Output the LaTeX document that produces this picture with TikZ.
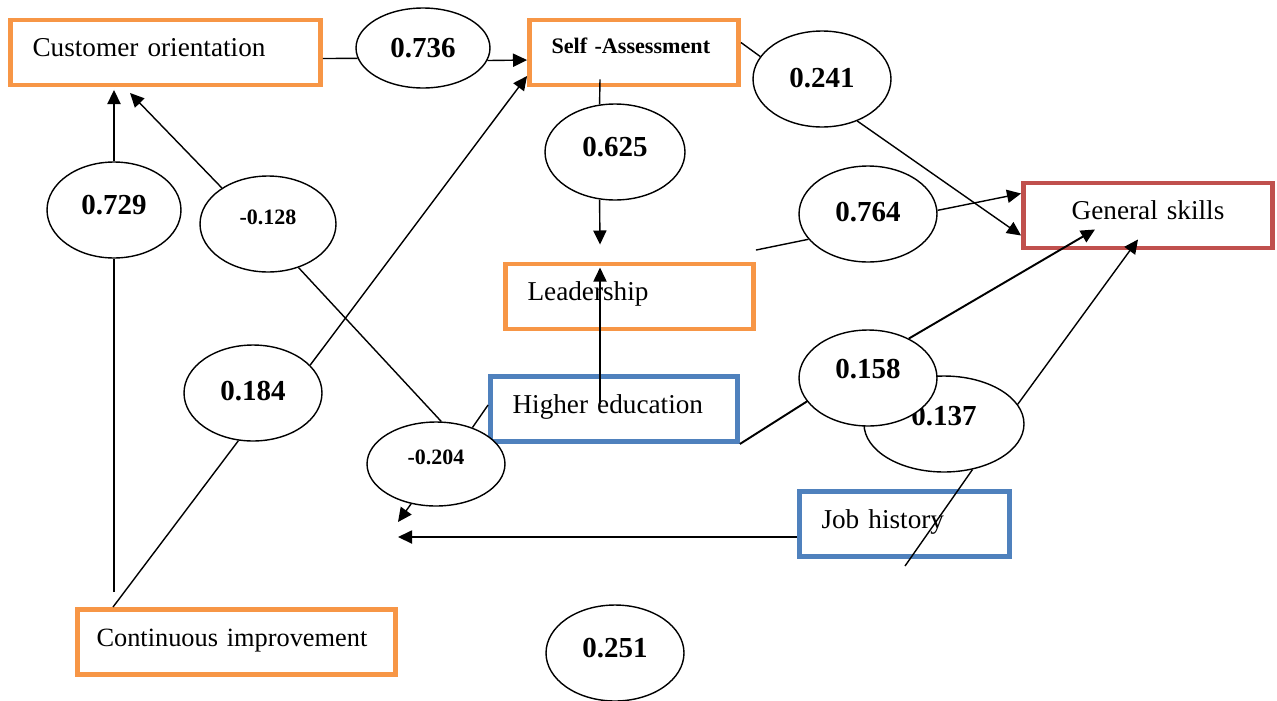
\documentclass[tikz,border=0pt]{standalone}
\usepackage{fontspec}
\setmainfont{Liberation Serif}
\usetikzlibrary{shapes.geometric,arrows.meta,calc}
\definecolor{orangebord}{RGB}{247,150,70}
\definecolor{bleubord}{RGB}{79,129,189}
\definecolor{rougebord}{RGB}{192,80,77}
\begin{document}
\begin{tikzpicture}[x=0.02cm, y=-0.02cm, line width=0.8pt]
\tikzset{cadre/.style={draw, line width=2.8pt, minimum height=1.3cm, inner xsep=0.44cm, align=left, font=\fontsize{15.5}{18}\selectfont, text height=0.45cm, text depth=0.29cm}}
\tikzset{coef/.style={draw, ellipse, fill=white, line width=0.8pt, inner sep=0pt, minimum width=2.76cm, minimum height=1.92cm, font=\bfseries\fontsize{16.5}{18}\selectfont, text height=0.45cm, text depth=0.26cm}}
\tikzset{fleche/.style={-{Triangle[length=8pt, width=7.5pt]}}}
\useasboundingbox (0,0) rectangle (1277,700);
\clip (0,0) rectangle (1277,700);
\node[cadre, draw=orangebord, text width=5.32cm] (CO) at (165.5,52.5) {Customer orientation};
\node[cadre, draw=orangebord, text width=3.30cm, font=\bfseries\fontsize{12.6}{15}\selectfont, text depth=0.43cm] (SA) at (634,52.5) {Self -Assessment};
\node[cadre, draw=orangebord, text width=4.08cm] (LD) at (629.5,296.5) {Leadership};
\node[cadre, draw=bleubord, text width=4.06cm] (HE) at (614,409) {Higher education};
\node[cadre, draw=rougebord, text width=4.10cm, align=center] (GS) at (1148,215.5) {General skills};
\node[cadre, draw=bleubord, text width=3.32cm] (JH) at (904.5,524) {Job history};
\node[cadre, draw=orangebord, text width=5.6cm, inner xsep=0.38cm, font=\fontsize{15}{18}\selectfont] (CI) at (236.5,642) {Continuous improvement};
\node[coef, minimum width=2.68cm, minimum height=1.6cm, text depth=0.06cm] (K736) at (423,48) {0.736};
\node[coef, text depth=0.12cm] (K241) at (822,79) {0.241};
\node[coef, minimum width=2.8cm] (K625) at (615,152) {0.625};
\node[coef, minimum width=2.68cm] (K729) at (114,210) {0.729};
\node[coef, minimum width=2.72cm, font=\bfseries\fontsize{12.5}{15}\selectfont, text depth=0.43cm] (K128) at (268,224) {-0.128};
\node[coef, text depth=0.14cm] (K764) at (868,214) {0.764};
\node[coef, minimum width=3.2cm, text depth=0.38cm] (K137) at (944,424) {0.137};
\node[coef, text depth=0.44cm] (K158) at (868,378) {0.158};
\node[coef, text depth=0.14cm] (K184) at (253,393) {0.184};
\node[coef, minimum height=1.68cm, font=\bfseries\fontsize{12.5}{15}\selectfont, text depth=0.43cm] (K204) at (436,464) {-0.204};
\node[coef] (K251) at (615,653) {0.251};
\coordinate (P204) at (398,522);
\coordinate (PJH) at (398,537);
\coordinate (P137) at (905,566);
\draw ($(CO.east)+(0,6)$) -- (K736.189);
\draw[fleche] (K736.-11) -- ($(SA.west)+(0,7.5)$);
\draw ($(SA.east)+(0,-10)$) -- (K241.160);
\draw[fleche] (K241.-50) -- ($(GS.west)+(0,20)$);
\draw ($(SA.south)+(-34,-8)$) -- (K625.108);
\draw[fleche] (K625.252) -- ($(LD.north)+(-29.5,-17)$);
\draw[fleche] (K729.north) -- ($(CO.south)+(-51.5,2.5)$);
\draw ($(CI.north)+(-122.5,-15)$) -- (K729.south);
\draw[fleche] (K128.142) -- ($(CO.south)+(-35.5,5.5)$);
\draw (K128.-55) -- (K204.83);
\draw ($(CI.north)+(-123.5,0)$) -- (K184.253);
\draw[fleche] (K184.26) -- ($(SA.west)+(0,23.5)$);
\draw ($(HE.west)+(0,-4)$) -- (K204.45);
\draw[fleche] (K204.238) -- (P204);
\draw[fleche] ($(JH.west)+(0,13)$) -- (PJH);
\draw[fleche] ($(HE.center)+(-14,-5)$) -- ($(LD.north)+(-29.5,6)$);
\draw ($(LD.north east)+(0,-11.5)$) -- (K764.203);
\draw[fleche] (K764.3) -- ($(GS.west)+(0,-22)$);
\draw[line width=1.1pt] (HE.south east) -- (K158.201);
\draw[fleche, line width=1.1pt] (K158.44) -- ($(GS.south)+(-53,-21)$);
\draw (K137.-58) -- (P137);
\draw[fleche] (K137.15) -- ($(GS.south)+(-10,-11)$);
\end{tikzpicture}
\end{document}
